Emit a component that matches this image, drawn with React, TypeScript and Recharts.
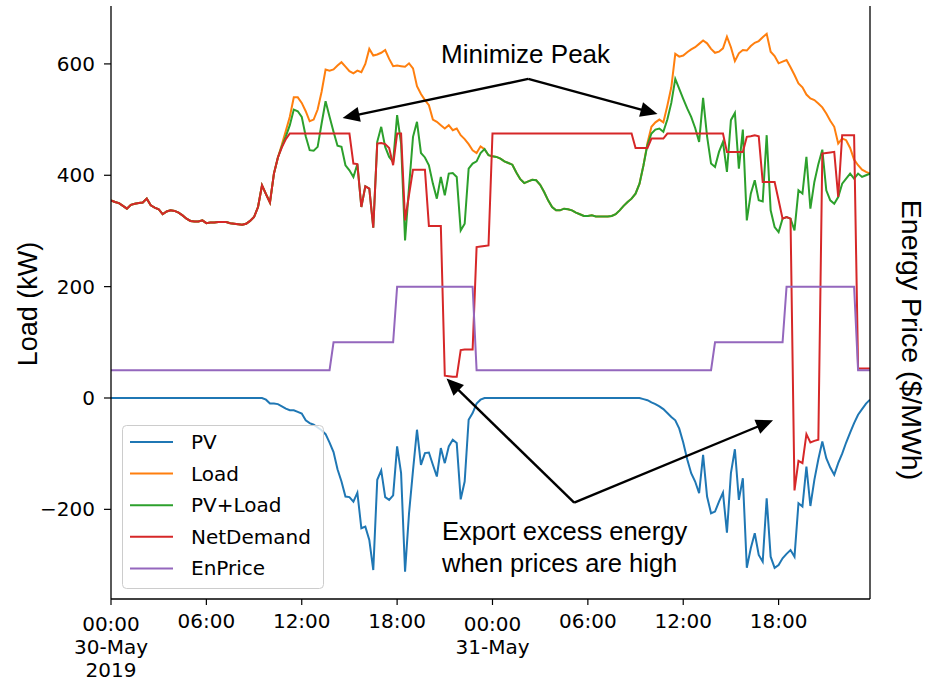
import React from 'react';
import { LineChart, Line, XAxis, YAxis, ReferenceLine } from 'recharts';

// ---------- data (15-minute samples, index i -> hour i*0.25 from 30-May 00:00) ----------
const STEP_H = 0.25;

const pv: number[] = [
  0, 0, 0, 0, 0, 0, 0, 0,
  0, 0, 0, 0, 0, 0, 0, 0,
  0, 0, 0, 0, 0, 0, 0, 0,
  0, 0, 0, 0, 0, 0, 0, 0,
  0, 0, 0, 0, 0, 0, 0, -3,
  -10, -10, -11, -15, -19, -22, -22, -25,
  -28, -40, -45, -48, -53, -58, -65, -80,
  -97, -128, -150, -177, -178, -186, -170, -234,
  -231, -255, -309, -147, -130, -178, -183, -175,
  -87, -135, -312, -207, -130, -57, -120, -99,
  -98, -120, -141, -90, -117, -87, -75, -81,
  -182, -150, -39, -27, -10, -3, 0, 0,
  0, 0, 0, 0, 0, 0, 0, 0,
  0, 0, 0, 0, 0, 0, 0, 0,
  0, 0, 0, 0, 0, 0, 0, 0,
  0, 0, 0, 0, 0, 0, 0, 0,
  0, 0, 0, 0, 0, 0, -2, -4,
  -8, -11, -15, -20, -27, -34, -40, -55,
  -80, -110, -135, -150, -171, -102, -177, -207,
  -204, -186, -170, -242, -135, -92, -183, -144,
  -305, -270, -243, -282, -294, -180, -285, -305,
  -300, -288, -280, -273, -285, -189, -195, -123,
  -194, -147, -110, -78, -108, -125, -138, -117,
  -100, -80, -62, -45, -30, -20, -10, -3,
];

const load: number[] = [
  355, 352, 350, 345, 340, 347, 349, 350,
  351, 358, 346, 342, 339, 330, 335, 337,
  336, 333, 328, 322, 318, 317, 317, 319,
  314, 315, 315, 316, 316, 316, 314, 313,
  312, 311, 313, 318, 325, 343, 382, 366,
  351, 403, 432, 455, 480, 505, 540, 540,
  530, 515, 497, 500, 518, 550, 590, 588,
  590, 597, 603, 595, 587, 583, 588, 585,
  600, 627, 615, 617, 620, 625, 609, 596,
  597, 596, 595, 601, 592, 560, 546, 535,
  526, 500, 496, 490, 484, 490, 481, 484,
  472, 465, 456, 445, 440, 452, 447, 436,
  434, 433, 430, 425, 422, 419, 405, 393,
  386, 389, 392, 391, 383, 370, 355, 343,
  337, 337, 340, 339, 337, 333, 330, 327,
  327, 328, 326, 326, 326, 326, 327, 330,
  337, 345, 352, 358, 367, 385, 418, 458,
  487, 495, 500, 495, 525, 558, 618, 613,
  615, 621, 626, 630, 636, 642, 637, 627,
  620, 622, 628, 649, 630, 605, 619, 625,
  624, 632, 638, 641, 648, 654, 622, 614,
  601, 604, 607, 594, 580, 565, 558, 545,
  538, 535, 529, 522, 511, 498, 487, 457,
  466, 463, 449, 428, 418, 410, 406, 403,
];

const pvLoad: number[] = [
  355, 352, 350, 345, 340, 347, 349, 350,
  351, 358, 346, 342, 339, 330, 335, 337,
  336, 333, 328, 322, 318, 317, 317, 319,
  314, 315, 315, 316, 316, 316, 314, 313,
  312, 311, 313, 318, 325, 343, 382, 366,
  351, 403, 432, 452, 470, 490, 518, 515,
  505, 470, 445, 444, 451, 493, 533, 505,
  478, 453, 451, 418, 409, 397, 420, 343,
  380, 376, 306, 460, 487, 451, 433, 424,
  508, 457, 283, 379, 469, 496, 440, 432,
  418, 385, 358, 397, 364, 403, 404, 397,
  301, 313, 412, 421, 425, 440, 447, 436,
  434, 433, 430, 425, 422, 419, 405, 393,
  386, 389, 392, 391, 383, 370, 355, 343,
  337, 337, 340, 339, 337, 333, 330, 327,
  327, 328, 326, 326, 326, 326, 327, 330,
  337, 345, 352, 358, 367, 385, 418, 455,
  475, 482, 484, 478, 500, 530, 573, 555,
  537, 520, 505, 485, 460, 539, 470, 421,
  415, 442, 460, 406, 499, 512, 412, 482,
  319, 367, 391, 355, 353, 472, 337, 307,
  298, 322, 325, 322, 301, 373, 367, 433,
  340, 388, 420, 446, 373, 355, 349, 361,
  385, 394, 403, 394, 403, 397, 400, 403,
];

const netDemand: number[] = [
  355, 352, 350, 345, 340, 347, 349, 350,
  351, 358, 346, 342, 339, 330, 335, 337,
  336, 333, 328, 322, 318, 317, 317, 319,
  314, 315, 315, 316, 316, 316, 314, 313,
  312, 311, 313, 318, 325, 343, 382, 366,
  351, 403, 432, 450, 465, 475, 475, 475,
  475, 475, 475, 475, 475, 475, 475, 475,
  475, 475, 475, 475, 475, 421, 420, 343,
  380, 376, 306, 457, 458, 456, 449, 418,
  475, 475, 319, 365, 410, 410, 410, 410,
  309, 309, 309, 309, 40, 39, 38, 38,
  86, 87, 87, 87, 271, 272, 273, 274,
  475, 475, 475, 475, 475, 475, 475, 475,
  475, 475, 475, 475, 475, 475, 475, 475,
  475, 475, 475, 475, 475, 475, 475, 475,
  475, 475, 475, 475, 475, 475, 475, 475,
  475, 475, 475, 475, 449, 449, 449, 449,
  466, 466, 466, 466, 475, 475, 475, 475,
  475, 475, 475, 475, 475, 475, 475, 475,
  475, 475, 475, 442, 442, 442, 442, 442,
  469, 470, 472, 470, 388, 388, 388, 388,
  355, 322, 325, 322, -166, -113, -117, -65,
  -80, -77, -75, 439, 440, 441, 442, 361,
  472, 472, 472, 472, 53, 53, 53, 53,
];

// energy price breakpoints [hour, value]
const enPrice: [number, number][] = [
  [0, 50], [13.75, 50], [14, 100], [17.75, 100], [18, 200], [22.75, 200], [23, 50],
  [37.75, 50], [38, 100], [42.25, 100], [42.5, 200], [46.75, 200], [47, 50], [47.75, 50],
];

const seriesNames = ['PV', 'Load', 'PV+Load', 'NetDemand', 'EnPrice'];
const seriesColors = ['#1f77b4', '#ff7f0e', '#2ca02c', '#d62728', '#9467bd'];

const xTickValues = [0, 6, 12, 18, 24, 30, 36, 42];
const xTickLabels: string[][] = [
  ['00:00', '30-May', '2019'], ['06:00'], ['12:00'], ['18:00'],
  ['00:00', '31-May'], ['06:00'], ['12:00'], ['18:00'],
];
const yTickValues = [-200, 0, 200, 400, 600];

const X_DOMAIN: [number, number] = [0, 47.75];
const Y_DOMAIN: [number, number] = [-361, 704];

// annotation arrows in data coordinates: [from, to]
const peakArrows = [
  [{ x: 26.25, y: 573 }, { x: 14.57, y: 503 }],
  [{ x: 26.25, y: 573 }, { x: 34.38, y: 510 }],
];
const exportArrows = [
  [{ x: 29.14, y: -188 }, { x: 21.11, y: 35 }],
  [{ x: 29.14, y: -188 }, { x: 41.65, y: -40 }],
];

// ---------- build tables ----------
const toPoints = (vals: number[]) => vals.map((v, i) => ({ t: i * STEP_H, v }));
const seriesData = [
  toPoints(pv),
  toPoints(load),
  toPoints(pvLoad),
  toPoints(netDemand),
  enPrice.map(([t, v]) => ({ t, v })),
];

const TICK_FONT = "'DejaVu Sans', sans-serif";
const LABEL_FONT = "'Liberation Sans', Arial, sans-serif";

const XTick = (props: any) => {
  const { x, y, payload } = props;
  const idx = xTickValues.indexOf(payload.value);
  const lines = idx >= 0 ? xTickLabels[idx] : [];
  const multi = lines.length > 1;
  return (
    <g>
      {lines.map((s, k) => (
        <text
          key={k}
          x={x}
          y={y + (multi ? 24 : 21) + k * 23}
          textAnchor="middle"
          fontFamily={TICK_FONT}
          fontSize={20}
          fill="#000"
        >
          {s}
        </text>
      ))}
    </g>
  );
};

const arrowShape = (props: any) => {
  const { x1, y1, x2, y2 } = props;
  const dx = x2 - x1;
  const dy = y2 - y1;
  const len = Math.sqrt(dx * dx + dy * dy) || 1;
  const ux = dx / len;
  const uy = dy / len;
  const hl = 17;
  const hw = 7.5;
  const bx = x2 - ux * hl;
  const by = y2 - uy * hl;
  const p1 = `${bx - uy * hw},${by + ux * hw}`;
  const p2 = `${bx + uy * hw},${by - ux * hw}`;
  return (
    <g>
      <line x1={x1} y1={y1} x2={bx + ux * 2} y2={by + uy * 2} stroke="#000" strokeWidth={2.4} />
      <polygon points={`${x2},${y2} ${p1} ${p2}`} fill="#000" />
    </g>
  );
};

export default function App() {
  return (
    <div style={{ position: 'absolute', left: 0, top: 0, width: 928, height: 683, background: '#fff' }}>
      <LineChart width={928} height={683} margin={{ top: 6, right: 0, bottom: 0, left: 0 }}>
        <XAxis
          xAxisId="b"
          type="number"
          dataKey="t"
          domain={X_DOMAIN}
          allowDataOverflow
          ticks={xTickValues}
          interval={0}
          height={84}
          tickSize={6}
          tickMargin={2}
          tick={<XTick />}
          axisLine={{ stroke: '#000', strokeWidth: 1.3 }}
          tickLine={{ stroke: '#000', strokeWidth: 1.2 }}
        />
        <XAxis
          xAxisId="top"
          orientation="top"
          type="number"
          dataKey="t"
          domain={X_DOMAIN}
          allowDataOverflow
          height={0}
          tick={false}
          tickLine={false}
          axisLine={{ stroke: '#000', strokeWidth: 1.3 }}
        />
        <YAxis
          yAxisId="l"
          type="number"
          domain={Y_DOMAIN}
          allowDataOverflow
          ticks={yTickValues}
          interval={0}
          width={111}
          tickSize={7}
          tickMargin={9}
          tickFormatter={(v: number) => String(v).replace('-', '\u2212')}
          tick={{ fontFamily: TICK_FONT, fontSize: 20, fill: '#000' }}
          axisLine={{ stroke: '#000', strokeWidth: 1.3 }}
          tickLine={{ stroke: '#000', strokeWidth: 1.2 }}
        />
        <YAxis
          yAxisId="r"
          orientation="right"
          type="number"
          domain={Y_DOMAIN}
          allowDataOverflow
          width={58}
          tick={false}
          tickLine={false}
          axisLine={{ stroke: '#000', strokeWidth: 1.3 }}
        />
        {seriesData.map((d, i) => (
          <Line
            key={seriesNames[i]}
            name={seriesNames[i]}
            xAxisId="b"
            yAxisId="l"
            data={d}
            dataKey="v"
            type="linear"
            stroke={seriesColors[i]}
            strokeWidth={2}
            dot={false}
            activeDot={false}
            isAnimationActive={false}
          />
        ))}
        {[...peakArrows, ...exportArrows].map((seg, i) => (
          <ReferenceLine
            key={`arrow-${i}`}
            xAxisId="b"
            yAxisId="l"
            segment={seg}
            ifOverflow="visible"
            shape={arrowShape}
          />
        ))}
      </LineChart>
      <svg
        width={928}
        height={683}
        style={{ position: 'absolute', left: 0, top: 0, pointerEvents: 'none' }}
      >
        <text x={441} y={63} fontFamily={LABEL_FONT} fontSize={26} fill="#000">Minimize Peak</text>
        <text x={442} y={540} fontFamily={LABEL_FONT} fontSize={25.5} fill="#000">Export excess energy</text>
        <text x={442} y={572} fontFamily={LABEL_FONT} fontSize={25.5} fill="#000">when prices are high</text>
        <text
          x={37}
          y={304}
          transform="rotate(-90 37 304)"
          textAnchor="middle"
          fontFamily={LABEL_FONT}
          fontSize={27}
          fill="#000"
        >
          Load (kW)
        </text>
        <text
          x={902}
          y={340}
          transform="rotate(90 902 340)"
          textAnchor="middle"
          fontFamily={LABEL_FONT}
          fontSize={28.5}
          fill="#000"
        >
          Energy Price ($/MWh)
        </text>
        <rect x={122.5} y={425.5} width={201} height={163} rx={4} ry={4} fill="#fff" fillOpacity={0.8} stroke="#cccccc" strokeWidth={1} />
        {seriesNames.map((n, i) => (
          <g key={n}>
            <line x1={130} x2={173} y1={442 + i * 31.6} y2={442 + i * 31.6} stroke={seriesColors[i]} strokeWidth={2} />
            <text x={191} y={442 + i * 31.6 + 7} fontFamily={TICK_FONT} fontSize={20} fill="#000">{n}</text>
          </g>
        ))}
      </svg>
    </div>
  );
}
